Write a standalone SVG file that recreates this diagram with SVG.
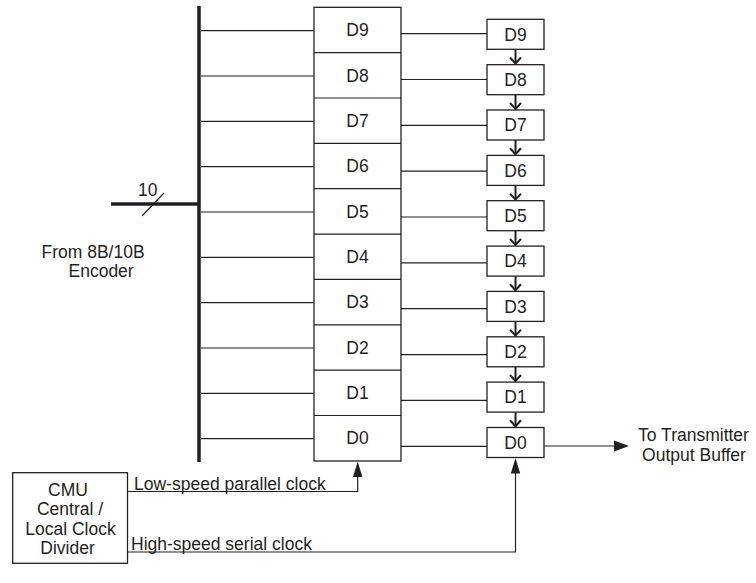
<svg xmlns="http://www.w3.org/2000/svg" width="756" height="583" viewBox="0 0 756 583">
<style>
  .t { font-family: "Liberation Sans", Arial, sans-serif; font-size: 17.5px; fill: #231f20; }
  .m { text-anchor: middle; }
  .box { fill: #fff; stroke: #231f20; stroke-width: 1.3; }
  .ln { fill: none; stroke: #231f20; stroke-width: 1.2; }
  .thick { fill: none; stroke: #231f20; stroke-width: 3.5; }
  .chev { fill: none; stroke: #231f20; stroke-width: 2; }
  .ah { fill: #231f20; stroke: none; }
</style>
<rect width="756" height="583" fill="#fff"/>

<g id="connectors">
  <!-- data bus -->
  <line class="thick" x1="199" y1="6" x2="199" y2="462"/>
  <line class="thick" x1="111" y1="204" x2="199" y2="204"/>
  <line class="ln" x1="142" y1="216" x2="164" y2="193" stroke-width="2"/>
  <!-- bus taps -->
  <line class="ln" x1="201" y1="30.7" x2="314" y2="30.7"/>
  <line class="ln" x1="201" y1="76" x2="314" y2="76"/>
  <line class="ln" x1="201" y1="121.4" x2="314" y2="121.4"/>
  <line class="ln" x1="201" y1="166.7" x2="314" y2="166.7"/>
  <line class="ln" x1="201" y1="212" x2="314" y2="212"/>
  <line class="ln" x1="201" y1="257.4" x2="314" y2="257.4"/>
  <line class="ln" x1="201" y1="302.7" x2="314" y2="302.7"/>
  <line class="ln" x1="201" y1="348" x2="314" y2="348"/>
  <line class="ln" x1="201" y1="393.4" x2="314" y2="393.4"/>
  <line class="ln" x1="201" y1="438.7" x2="314" y2="438.7"/>
  <!-- parallel to serial links -->
  <line class="ln" x1="401" y1="33.7" x2="487" y2="33.7"/>
  <line class="ln" x1="401" y1="79.5" x2="487" y2="79.5"/>
  <line class="ln" x1="401" y1="125.4" x2="487" y2="125.4"/>
  <line class="ln" x1="401" y1="171.2" x2="487" y2="171.2"/>
  <line class="ln" x1="401" y1="217" x2="487" y2="217"/>
  <line class="ln" x1="401" y1="262.9" x2="487" y2="262.9"/>
  <line class="ln" x1="401" y1="308.7" x2="487" y2="308.7"/>
  <line class="ln" x1="401" y1="354.6" x2="487" y2="354.6"/>
  <line class="ln" x1="401" y1="400.4" x2="487" y2="400.4"/>
  <line class="ln" x1="401" y1="446.3" x2="487" y2="446.3"/>
  <!-- shift chain arrows -->
  <g>
    <line class="chev" x1="515.5" y1="49.3" x2="515.5" y2="63.5"/><polyline class="chev" points="510,57.5 515.5,63.5 521,57.5"/>
    <line class="chev" x1="515.5" y1="94.7" x2="515.5" y2="108.9"/><polyline class="chev" points="510,102.9 515.5,108.9 521,102.9"/>
    <line class="chev" x1="515.5" y1="140" x2="515.5" y2="154.2"/><polyline class="chev" points="510,148.2 515.5,154.2 521,148.2"/>
    <line class="chev" x1="515.5" y1="185.4" x2="515.5" y2="199.6"/><polyline class="chev" points="510,193.6 515.5,199.6 521,193.6"/>
    <line class="chev" x1="515.5" y1="230.7" x2="515.5" y2="244.9"/><polyline class="chev" points="510,238.9 515.5,244.9 521,238.9"/>
    <line class="chev" x1="515.5" y1="276.1" x2="515.5" y2="290.3"/><polyline class="chev" points="510,284.3 515.5,290.3 521,284.3"/>
    <line class="chev" x1="515.5" y1="321.4" x2="515.5" y2="335.6"/><polyline class="chev" points="510,329.6 515.5,335.6 521,329.6"/>
    <line class="chev" x1="515.5" y1="366.8" x2="515.5" y2="381"/><polyline class="chev" points="510,375 515.5,381 521,375"/>
    <line class="chev" x1="515.5" y1="412.1" x2="515.5" y2="426.3"/><polyline class="chev" points="510,420.3 515.5,426.3 521,420.3"/>
  </g>
  <!-- output -->
  <line class="ln" x1="544" y1="446" x2="616" y2="446" stroke-width="2.2"/>
  <polygon class="ah" points="629,446 614,440.5 614,451.5"/>
  <!-- clocks -->
  <polyline class="ln" points="127.5,491.5 357.7,491.5 357.7,474"/>
  <polygon class="ah" points="357.7,461.5 353,477 362.4,477"/>
  <polyline class="ln" points="127.5,552 515.5,552 515.5,470"/>
  <polygon class="ah" points="515.5,458 510.8,473.5 520.2,473.5"/>
</g>

<g id="input-label">
  <text class="t" x="138" y="195.5">10</text>
  <text class="t" x="41.5" y="258.3">From 8B/10B</text>
  <text class="t" x="68.5" y="276.5">Encoder</text>
</g>

<g id="parallel-register">
  <rect class="box" x="314" y="7.3" width="87" height="453.7"/>
  <line class="ln" x1="314" y1="52.7" x2="401" y2="52.7"/>
  <line class="ln" x1="314" y1="98" x2="401" y2="98"/>
  <line class="ln" x1="314" y1="143.4" x2="401" y2="143.4"/>
  <line class="ln" x1="314" y1="188.7" x2="401" y2="188.7"/>
  <line class="ln" x1="314" y1="234.1" x2="401" y2="234.1"/>
  <line class="ln" x1="314" y1="279.4" x2="401" y2="279.4"/>
  <line class="ln" x1="314" y1="324.8" x2="401" y2="324.8"/>
  <line class="ln" x1="314" y1="370.1" x2="401" y2="370.1"/>
  <line class="ln" x1="314" y1="415.5" x2="401" y2="415.5"/>
  <text class="t m" x="357.5" y="36.3">D9</text>
  <text class="t m" x="357.5" y="81.6">D8</text>
  <text class="t m" x="357.5" y="127">D7</text>
  <text class="t m" x="357.5" y="172.3">D6</text>
  <text class="t m" x="357.5" y="217.7">D5</text>
  <text class="t m" x="357.5" y="263">D4</text>
  <text class="t m" x="357.5" y="308.4">D3</text>
  <text class="t m" x="357.5" y="353.7">D2</text>
  <text class="t m" x="357.5" y="399.1">D1</text>
  <text class="t m" x="357.5" y="444.4">D0</text>
</g>

<g id="serial-D9"><rect class="box" x="487" y="19.3" width="57" height="30"/><text class="t m" x="515.5" y="40.5">D9</text></g>
<g id="serial-D8"><rect class="box" x="487" y="64.7" width="57" height="30"/><text class="t m" x="515.5" y="85.9">D8</text></g>
<g id="serial-D7"><rect class="box" x="487" y="110" width="57" height="30"/><text class="t m" x="515.5" y="131.2">D7</text></g>
<g id="serial-D6"><rect class="box" x="487" y="155.4" width="57" height="30"/><text class="t m" x="515.5" y="176.6">D6</text></g>
<g id="serial-D5"><rect class="box" x="487" y="200.7" width="57" height="30"/><text class="t m" x="515.5" y="221.9">D5</text></g>
<g id="serial-D4"><rect class="box" x="487" y="246.1" width="57" height="30"/><text class="t m" x="515.5" y="267.3">D4</text></g>
<g id="serial-D3"><rect class="box" x="487" y="291.4" width="57" height="30"/><text class="t m" x="515.5" y="312.6">D3</text></g>
<g id="serial-D2"><rect class="box" x="487" y="336.8" width="57" height="30"/><text class="t m" x="515.5" y="358">D2</text></g>
<g id="serial-D1"><rect class="box" x="487" y="382.1" width="57" height="30"/><text class="t m" x="515.5" y="403.3">D1</text></g>
<g id="serial-D0"><rect class="box" x="487" y="427.5" width="57" height="30"/><text class="t m" x="515.5" y="448.7">D0</text></g>

<g id="output-label">
  <text class="t m" x="693.5" y="440.5">To Transmitter</text>
  <text class="t m" x="694" y="460.5">Output Buffer</text>
</g>

<g id="cmu">
  <rect class="box" x="12.7" y="472.7" width="114.8" height="90.6"/>
  <text class="t m" x="68" y="495.5">CMU</text>
  <text class="t m" x="70" y="515.3">Central /</text>
  <text class="t m" x="70.5" y="535">Local Clock</text>
  <text class="t m" x="67.5" y="554">Divider</text>
</g>

<g id="clock-labels">
  <text class="t" x="134" y="489.5">Low-speed parallel clock</text>
  <text class="t" x="131" y="549.5">High-speed serial clock</text>
</g>
</svg>
